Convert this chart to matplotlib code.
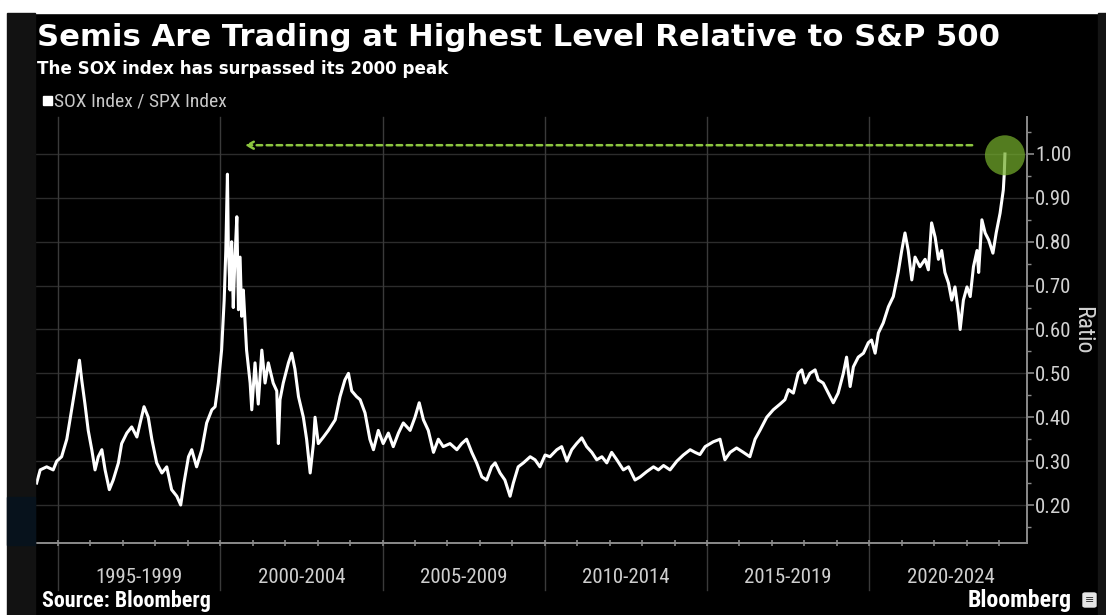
import matplotlib
matplotlib.use("Agg")
import matplotlib.pyplot as plt
from matplotlib.patches import Rectangle, FancyBboxPatch

# ---- data: SOX Index / SPX Index ratio (decimal year, ratio) ----
years = [
    1994.34, 1994.45, 1994.65, 1994.85, 1994.96, 1995.11, 1995.27, 1995.42, 1995.58, 1995.66,
    1995.73, 1995.83, 1995.93, 1996.04, 1996.14, 1996.24, 1996.35, 1996.45, 1996.58, 1996.70,
    1996.86, 1996.96, 1997.12, 1997.27, 1997.43, 1997.53, 1997.65, 1997.78, 1997.89, 1998.04,
    1998.20, 1998.35, 1998.50, 1998.66, 1998.78, 1998.88, 1999.02, 1999.12, 1999.27, 1999.43,
    1999.58, 1999.74, 1999.84, 1999.94, 2000.04, 2000.12, 2000.17, 2000.22, 2000.25, 2000.30,
    2000.35, 2000.40, 2000.45, 2000.51, 2000.56, 2000.61, 2000.66, 2000.71, 2000.81, 2000.92,
    2000.97, 2001.07, 2001.17, 2001.28, 2001.38, 2001.48, 2001.63, 2001.74, 2001.79, 2001.84,
    2001.94, 2002.10, 2002.20, 2002.30, 2002.41, 2002.56, 2002.66, 2002.77, 2002.87, 2002.92,
    2003.02, 2003.18, 2003.33, 2003.54, 2003.69, 2003.84, 2003.95, 2004.05, 2004.20, 2004.31,
    2004.46, 2004.61, 2004.72, 2004.87, 2005.02, 2005.18, 2005.33, 2005.49, 2005.64, 2005.85,
    2006.00, 2006.13, 2006.26, 2006.41, 2006.57, 2006.72, 2006.87, 2007.08, 2007.29, 2007.44,
    2007.59, 2007.75, 2007.90, 2008.06, 2008.21, 2008.36, 2008.47, 2008.62, 2008.77, 2008.93,
    2009.03, 2009.18, 2009.34, 2009.55, 2009.70, 2009.85, 2010.01, 2010.16, 2010.37, 2010.52,
    2010.68, 2010.83, 2010.98, 2011.14, 2011.29, 2011.45, 2011.60, 2011.76, 2011.91, 2012.06,
    2012.22, 2012.42, 2012.58, 2012.78, 2012.94, 2013.14, 2013.35, 2013.50, 2013.66, 2013.86,
    2014.07, 2014.27, 2014.48, 2014.63, 2014.78, 2014.94, 2015.19, 2015.40, 2015.55, 2015.71,
    2015.91, 2016.12, 2016.32, 2016.48, 2016.63, 2016.84, 2017.04, 2017.25, 2017.40, 2017.51,
    2017.66, 2017.81, 2017.92, 2018.02, 2018.17, 2018.33, 2018.43, 2018.58, 2018.74, 2018.89,
    2019.04, 2019.20, 2019.30, 2019.41, 2019.51, 2019.66, 2019.82, 2019.97, 2020.07, 2020.18,
    2020.28, 2020.43, 2020.59, 2020.74, 2020.89, 2021.00, 2021.10, 2021.20, 2021.31, 2021.41,
    2021.56, 2021.72, 2021.82, 2021.92, 2022.03, 2022.13, 2022.23, 2022.33, 2022.44, 2022.54,
    2022.64, 2022.75, 2022.80, 2022.90, 2023.01, 2023.11, 2023.21, 2023.32, 2023.37, 2023.47,
    2023.57, 2023.68, 2023.81, 2023.91, 2024.03, 2024.13, 2024.16, 2024.18,
]
ratio = [
    0.250, 0.280, 0.287, 0.280, 0.300, 0.310, 0.350, 0.417, 0.490, 0.530,
    0.485, 0.430, 0.370, 0.326, 0.280, 0.310, 0.326, 0.280, 0.235, 0.257,
    0.296, 0.340, 0.364, 0.378, 0.355, 0.387, 0.424, 0.400, 0.350, 0.296,
    0.273, 0.287, 0.235, 0.220, 0.200, 0.250, 0.310, 0.326, 0.287, 0.326,
    0.387, 0.417, 0.424, 0.478, 0.553, 0.667, 0.780, 0.954, 0.780, 0.690,
    0.800, 0.650, 0.760, 0.857, 0.645, 0.765, 0.630, 0.690, 0.553, 0.478,
    0.417, 0.524, 0.430, 0.553, 0.478, 0.524, 0.478, 0.460, 0.340, 0.440,
    0.478, 0.524, 0.546, 0.510, 0.447, 0.400, 0.350, 0.273, 0.340, 0.400,
    0.340, 0.355, 0.370, 0.394, 0.447, 0.485, 0.500, 0.460, 0.447, 0.440,
    0.410, 0.350, 0.326, 0.370, 0.340, 0.364, 0.333, 0.364, 0.387, 0.370,
    0.400, 0.433, 0.394, 0.370, 0.320, 0.350, 0.333, 0.340, 0.326, 0.340,
    0.350, 0.320, 0.296, 0.264, 0.257, 0.287, 0.296, 0.273, 0.257, 0.220,
    0.250, 0.287, 0.296, 0.310, 0.303, 0.287, 0.314, 0.310, 0.326, 0.333,
    0.300, 0.326, 0.340, 0.353, 0.333, 0.320, 0.303, 0.310, 0.296, 0.320,
    0.303, 0.280, 0.287, 0.257, 0.264, 0.276, 0.287, 0.280, 0.290, 0.280,
    0.300, 0.314, 0.326, 0.320, 0.315, 0.333, 0.344, 0.350, 0.303, 0.320,
    0.330, 0.320, 0.310, 0.350, 0.370, 0.400, 0.417, 0.430, 0.440, 0.463,
    0.455, 0.500, 0.508, 0.478, 0.500, 0.508, 0.485, 0.478, 0.455, 0.433,
    0.455, 0.500, 0.537, 0.470, 0.515, 0.537, 0.546, 0.570, 0.576, 0.546,
    0.592, 0.615, 0.652, 0.675, 0.730, 0.780, 0.820, 0.780, 0.713, 0.765,
    0.743, 0.760, 0.736, 0.843, 0.810, 0.760, 0.780, 0.730, 0.706, 0.667,
    0.697, 0.637, 0.600, 0.667, 0.697, 0.675, 0.743, 0.780, 0.730, 0.850,
    0.820, 0.804, 0.774, 0.820, 0.865, 0.918, 0.956, 1.000,
]

period_starts = [1995, 2000, 2005, 2010, 2015, 2020]
period_labels = ["1995-1999", "2000-2004", "2005-2009", "2010-2014", "2015-2019", "2020-2024"]
y_ticks = [0.20, 0.30, 0.40, 0.50, 0.60, 0.70, 0.80, 0.90, 1.00]
prior_peak_line = 1.02   # dashed marker level above the 2000 peak
arrow_span = (2023.17, 2000.76)

title = "Semis Are Trading at Highest Level Relative to S&P 500"
subtitle = "The SOX index has surpassed its 2000 peak"
legend_label = "SOX Index / SPX Index"

NARROW = "Roboto Condensed"

W, H = 1106, 615
fig = plt.figure(figsize=(W / 100, H / 100), dpi=100, facecolor="black")


def px(x, y):
    return x / W, 1 - y / H


def strip(x, y, w, h, color):
    fig.patches.append(Rectangle((x / W, 1 - (y + h) / H), w / W, h / H,
                                 transform=fig.transFigure, color=color, zorder=0))


# frame strips around the chart panel
strip(0, 0, W, 13, "white")
strip(0, 0, 7, H, "white")
strip(7, 13, 28, H - 13, "#121212")
strip(7, 497, 28, 48, "#07121c")
strip(1098, 13, 8, H - 13, "#141414")

ax = fig.add_axes([35 / W, 1 - 543 / H, (1027 - 35) / W, (543 - 117) / H])
ax.set_facecolor("black")
ax.set_xlim(1994.29, 2024.86)
ax.set_ylim(0.1134, 1.0843)

# grid
for v in y_ticks:
    ax.axhline(v, color="#2c2c2c", lw=1.0, zorder=1)
for s in period_starts:
    ax.plot([s, s], [1.0, -0.11], transform=ax.get_xaxis_transform(),
            color="#3a3a3a", lw=1.0, clip_on=False, zorder=1)

# series
ax.plot(years, ratio, color="white", lw=2.2, solid_joinstyle="round", zorder=3)

# prior-peak arrow and highlight on the latest value
ax.annotate("", xy=(arrow_span[1], prior_peak_line), xytext=(arrow_span[0], prior_peak_line),
            arrowprops=dict(arrowstyle="->,head_length=0.45,head_width=0.25",
                            color="#8dc63f", lw=1.8, linestyle=(0, (2.2, 1.8)),
                            shrinkA=0, shrinkB=0), zorder=4)
ax.scatter([years[-1]], [ratio[-1] - 0.003], s=830, color="#74ad2c", alpha=0.72,
           edgecolors="none", zorder=5)

# spines and ticks
for side in ("top", "left"):
    ax.spines[side].set_visible(False)
for side in ("right", "bottom"):
    ax.spines[side].set_color("#8a8a8a")
    ax.spines[side].set_linewidth(1.4)

ax.yaxis.tick_right()
ax.set_yticks(y_ticks)
ax.set_yticks([v + 0.05 for v in y_ticks[:-1]] + [0.15, 1.05], minor=True)
ax.set_yticklabels([f"{v:.2f}" for v in y_ticks], family=NARROW, fontsize=15)
ax.tick_params(axis="y", which="major", direction="out", length=5, width=1.2,
               color="#8a8a8a", labelcolor="#d2d2d2", pad=1)
ax.tick_params(axis="y", which="minor", direction="out", length=3, width=1.0, color="#8a8a8a")

ax.set_xticks(list(range(1995, 2025)))
ax.set_xticklabels([])
ax.tick_params(axis="x", which="major", direction="inout", length=4, width=1.2, color="#8a8a8a")

ax.yaxis.set_label_position("right")
ax.set_ylabel("Ratio", rotation=270, color="#d2d2d2", fontsize=17, labelpad=16, family=NARROW)

for s, lab in zip(period_starts, period_labels):
    ax.text(s + 2.5, -0.08, lab, transform=ax.get_xaxis_transform(), ha="center",
            va="center", color="#cfcfcf", fontsize=15, family=NARROW)


# headline texts, sized to span their measured widths
def fitted(x, y, s, width, **kw):
    t = fig.text(*px(x, y), s, **kw)
    fig.canvas.draw()
    bb = t.get_window_extent()
    t.set_fontsize(t.get_fontsize() * width / bb.width)
    return t


fitted(37, 38, title, 961, color="white", fontweight="bold", fontsize=22,
       family="DejaVu Sans", va="center")
fitted(37, 69, subtitle, 410, color="white", fontweight="bold", fontsize=13,
       family="DejaVu Sans", va="center")
strip(43, 96, 9, 9, "white")
fitted(54, 101, legend_label, 172, color="#c8c8c8", fontsize=12, va="center", family=NARROW)

fitted(42, 601, "Source: Bloomberg", 168, color="white", fontweight="bold",
       fontsize=13, va="center", family=NARROW)
fitted(968, 600, "Bloomberg", 104, color="white", fontweight="bold", fontsize=16,
       va="center", family=NARROW)
fig.patches.append(FancyBboxPatch(px(1083, 607), 13 / W, 14 / H, transform=fig.transFigure,
                                  boxstyle="round,pad=0,rounding_size=0.002",
                                  color="#e6e6e6"))
fig.text(*px(1089.5, 600), "\u2261", color="#333333", fontsize=8, ha="center", va="center")

fig.savefig("out.png", dpi=100, facecolor="black")
